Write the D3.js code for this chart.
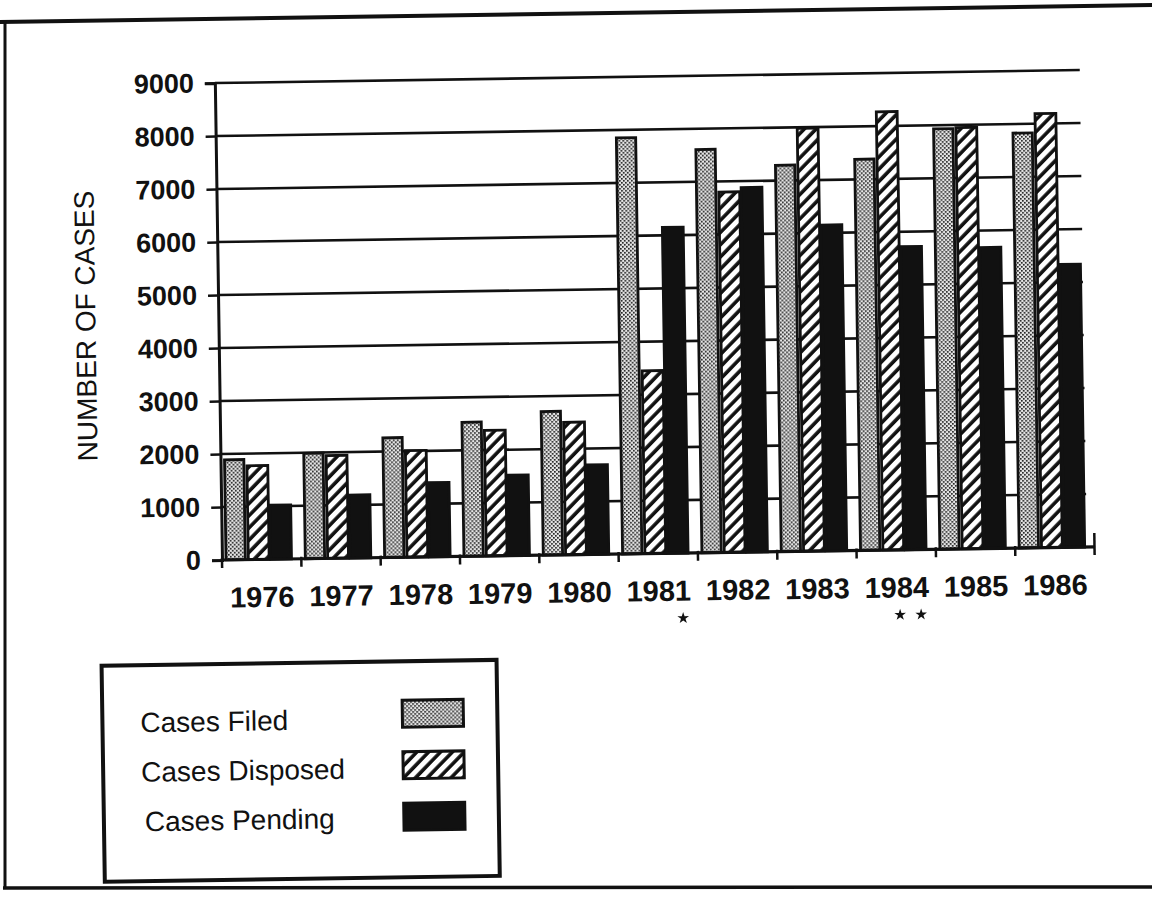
<html>
<head>
<title>Number of Cases 1976-1986</title>
<script src="https://d3js.org/d3.v7.min.js"></script>
<style>
	body { margin: 0; background: #fff; }
	svg text { font-family: "Liberation Sans", Arial, Helvetica, sans-serif; fill: #111; }
</style>
</head>
<body>
<script>

	const years = ["1976", "1977", "1978", "1979", "1980", "1981", "1982", "1983", "1984", "1985", "1986"];
	const casesFiled = [1890, 1990, 2260, 2530, 2710, 7850, 7610, 7290, 7380, 7930, 7830];
	const casesDisposed = [1770, 1940, 2010, 2370, 2500, 3450, 6800, 7980, 8270, 7950, 8190];
	const casesPending = [1020, 1190, 1400, 1520, 1690, 6150, 6880, 6150, 5720, 5680, 5340];
	const seriesNames = ["Cases Filed", "Cases Disposed", "Cases Pending"];
	const yTicks = [0, 1000, 2000, 3000, 4000, 5000, 6000, 7000, 8000, 9000];
	// footnote stars under the year labels
	const starYears = ["1981", "1984"];
	const starCounts = [1, 2];

	const W = 1152, H = 900;
	const svg = d3.select("body").append("svg")
		.attr("width", W).attr("height", H);

	const defs = svg.append("defs");

	// stipple fill for cases filed
	const dots = defs.append("pattern")
		.attr("id", "dots").attr("patternUnits", "userSpaceOnUse")
		.attr("width", 4).attr("height", 4);
	dots.append("rect").attr("width", 4).attr("height", 4).attr("fill", "#e6e6e6");
	dots.append("rect").attr("x", 0).attr("y", 0).attr("width", 1.7).attr("height", 1.7).attr("fill", "#222");
	dots.append("rect").attr("x", 2).attr("y", 2).attr("width", 1.7).attr("height", 1.7).attr("fill", "#222");

	// diagonal hatch for cases disposed
	const hatch = defs.append("pattern")
		.attr("id", "hatch").attr("patternUnits", "userSpaceOnUse")
		.attr("width", 8.5).attr("height", 8.5)
		.attr("patternTransform", "rotate(45)");
	hatch.append("rect").attr("width", 8.5).attr("height", 8.5).attr("fill", "#fff");
	hatch.append("line").attr("x1", 2).attr("x2", 2).attr("y1", 0).attr("y2", 8.5)
		.attr("stroke", "#111").attr("stroke-width", 3.6);

	const fills = ["url(#dots)", "url(#hatch)", "#111"];

	// page frame (scanned sheet edges)
	svg.append("path")
		.attr("d", "M0,22 L1152,5")
		.attr("stroke", "#111").attr("stroke-width", 4).attr("fill", "none");
	svg.append("path")
		.attr("d", "M5,21 L5,889")
		.attr("stroke", "#111").attr("stroke-width", 3).attr("fill", "none");
	svg.append("path")
		.attr("d", "M3,888 L1152,887")
		.attr("stroke", "#111").attr("stroke-width", 3.5).attr("fill", "none");

	// whole chart is slightly tilted like the scan
	const g = svg.append("g").attr("transform", "rotate(-0.86, 222, 560)");

	const x = d3.scaleBand().domain(years).range([222, 1094.6]).padding(0);
	const x1 = d3.scaleBand().domain(seriesNames).range([3, 70]).padding(0);
	const y = d3.scaleLinear().domain([0, 9000]).range([560, 83]);

	// gridlines
	g.append("g").selectAll("line")
		.data(yTicks.filter(d => d > 0))
		.enter().append("line")
		.attr("x1", 222).attr("x2", 1087)
		.attr("y1", d => y(d)).attr("y2", d => y(d))
		.attr("stroke", "#111").attr("stroke-width", 2.6);

	// bars
	const table = years.map((yr, i) => ({
		year: yr,
		values: [casesFiled[i], casesDisposed[i], casesPending[i]]
	}));

	const groups = g.append("g").selectAll("g")
		.data(table)
		.enter().append("g")
		.attr("transform", d => "translate(" + x(d.year) + ",0)");

	groups.selectAll("rect")
		.data(d => d.values.map((v, k) => ({ name: seriesNames[k], value: v, k: k })))
		.enter().append("rect")
		.attr("x", d => x1(d.name) + 1)
		.attr("width", d => x1.bandwidth() - (d.k == 0 ? 3 : 1.5))
		.attr("y", d => y(d.value))
		.attr("height", d => y(0) - y(d.value))
		.attr("fill", d => fills[d.k])
		.attr("stroke", "#111").attr("stroke-width", 2.8);

	// y axis
	const yAxis = g.append("g")
		.attr("transform", "translate(222,0)")
		.call(d3.axisLeft(y).tickValues(yTicks).tickSize(10).tickPadding(11).tickFormat(d3.format("d")));
	yAxis.select(".domain").attr("stroke", "#111").attr("stroke-width", 3);
	yAxis.selectAll(".tick line").attr("stroke", "#111").attr("stroke-width", 2.5);
	yAxis.selectAll(".tick text")
		.style("font-family", '"Liberation Sans", Arial, sans-serif')
		.style("font-size", "27px").style("font-weight", "bold").attr("fill", "#111");

	// x axis line with ticks at the band edges
	g.append("line")
		.attr("x1", 222).attr("x2", x.range()[1])
		.attr("y1", y(0)).attr("y2", y(0))
		.attr("stroke", "#111").attr("stroke-width", 3.2);
	const edges = years.map(d => x(d)).concat([x.range()[1]]);
	g.append("g").selectAll("line")
		.data(edges)
		.enter().append("line")
		.attr("x1", d => d).attr("x2", d => d)
		.attr("y1", (d, i) => i == edges.length - 1 ? y(0) - 14 : y(0) - 2)
		.attr("y2", y(0) + 8)
		.attr("stroke", "#111").attr("stroke-width", 2.5);

	const xAxis = g.append("g")
		.attr("transform", "translate(0," + y(0) + ")")
		.call(d3.axisBottom(x).tickSize(0).tickPadding(27));
	xAxis.select(".domain").remove();
	xAxis.selectAll(".tick text")
		.style("font-family", '"Liberation Sans", Arial, sans-serif')
		.style("font-size", "29px").style("font-weight", "bold").attr("fill", "#111");

	// footnote stars
	starYears.forEach((yr, i) => {
		for (let s = 0; s < starCounts[i]; s++) {
			const cx = x(yr) + x.bandwidth() / 2 + 24 - (starCounts[i] - 1 - s) * 21;
			g.append("path")
				.attr("d", d3.symbol(d3.symbolStar).size(42)())
				.attr("transform", "translate(" + cx + ",625)")
				.attr("fill", "#111");
		}
	});

	// y title
	g.append("text")
		.attr("transform", "translate(99,324) rotate(-90)")
		.attr("text-anchor", "middle")
		.style("font-size", "28px")
		.text("NUMBER OF CASES");

	// legend
	const legend = g.append("g");
	legend.append("rect")
		.attr("x", 100).attr("y", 664).attr("width", 395).attr("height", 216)
		.attr("fill", "#fff").attr("stroke", "#111").attr("stroke-width", 4);

	legend.selectAll("text.lg")
		.data(seriesNames)
		.enter().append("text")
		.attr("class", "lg")
		.attr("x", (d, i) => i == 2 ? 141 : 138)
		.attr("y", (d, i) => 731 + i * 49.5)
		.style("font-size", "28px")
		.text(d => d);

	legend.selectAll("rect.sw")
		.data(seriesNames)
		.enter().append("rect")
		.attr("class", "sw")
		.attr("x", 400).attr("y", (d, i) => 703 + i * 51.5)
		.attr("width", 61).attr("height", 27)
		.attr("fill", (d, i) => fills[i])
		.attr("stroke", "#111").attr("stroke-width", 3);

</script>
</body>
</html>
